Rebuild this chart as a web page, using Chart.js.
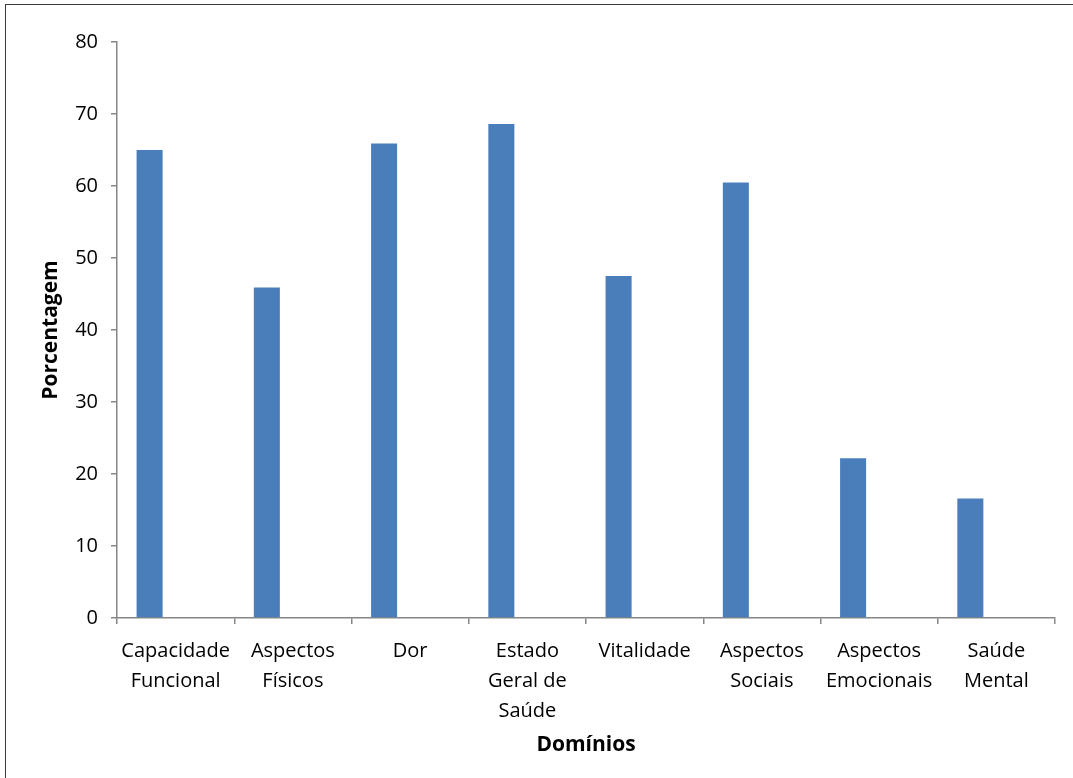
<!DOCTYPE html>
<html>
<head>
<meta charset="utf-8">
<script src="https://cdn.jsdelivr.net/npm/chart.js@4/dist/chart.umd.min.js"></script>
<style>
  html, body { margin: 0; padding: 0; background: #fff; }
  #wrap { position: relative; width: 1073px; height: 778px; }
  #frame {
    position: absolute; left: 5px; top: 4px; right: -2px; bottom: -2px;
    border-left: 1.5px solid #3a3a3a; border-top: 1.5px solid #3a3a3a;
    pointer-events: none;
  }
  canvas { position: absolute; left: 0; top: 0; }
</style>
</head>
<body>
<div id="wrap">
  <canvas id="c" width="1073" height="778"></canvas>
  <div id="frame"></div>
</div>
<script>
// SF-36 domain scores (percent)
const categories = [
  ["Capacidade", "Funcional"],
  ["Aspectos", "Físicos"],
  "Dor",
  ["Estado", "Geral de", "Saúde"],
  "Vitalidade",
  ["Aspectos", "Sociais"],
  ["Aspectos", "Emocionais"],
  ["Saúde", "Mental"]
];
const scores = [65.0, 45.9, 65.9, 68.6, 47.5, 60.5, 22.2, 16.6];
const yTicks = [0, 10, 20, 30, 40, 50, 60, 70, 80];

const FONT = "'Open Sans', 'DejaVu Sans', sans-serif";
const AXIS = "#868686";

new Chart(document.getElementById("c"), {
  type: "bar",
  data: {
    labels: categories,
    datasets: [
      { data: scores, backgroundColor: "#4A7EBB", borderWidth: 0 },
      { data: [], backgroundColor: "#C0504D" },
      { data: [], backgroundColor: "#9BBB59" }
    ]
  },
  options: {
    responsive: false,
    animation: false,
    devicePixelRatio: 1,
    categoryPercentage: 0.666,
    barPercentage: 1.0,
    layout: { padding: { left: 38, top: 42, right: 18, bottom: 20 } },
    plugins: { legend: { display: false }, tooltip: { enabled: false } },
    scales: {
      x: {
        grid: { drawOnChartArea: false, offset: true, tickLength: 6, color: AXIS, tickColor: AXIS, lineWidth: 1.5 },
        border: { color: AXIS, width: 1.5 },
        ticks: {
          color: "#000", padding: 12, maxRotation: 0, autoSkip: false,
          font: { family: FONT, size: 20, lineHeight: 1.5 }
        },
        title: {
          display: true, text: "Domínios", color: "#000",
          font: { family: FONT, size: 21, weight: "bold" }, padding: { top: 0, bottom: 0 }
        },
        afterFit: (s) => { s.height = 140; }
      },
      y: {
        min: 0, max: 80,
        afterBuildTicks: (s) => { s.ticks = yTicks.map(v => ({ value: v })); },
        grid: { drawOnChartArea: false, tickLength: 6, color: AXIS, tickColor: AXIS, lineWidth: 1.5 },
        border: { color: AXIS, width: 1.5 },
        ticks: { color: "#000", padding: 13, font: { family: FONT, size: 20 } },
        title: {
          display: true, text: "Porcentagem", color: "#000",
          font: { family: FONT, size: 21, weight: "bold" }, padding: { top: 0, bottom: 8 }
        },
        afterFit: (s) => { s.width = 79; }
      }
    }
  }
});
</script>
</body>
</html>
